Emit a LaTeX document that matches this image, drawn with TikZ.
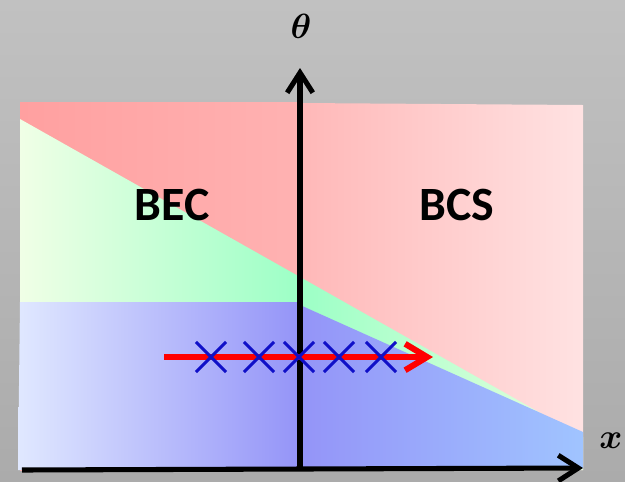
\documentclass[tikz,border=0pt]{standalone}
\usepackage{amsmath}
\usepackage{fontspec}
\newfontfamily\phasefont{Carlito}
\usetikzlibrary{arrows.meta,shapes.misc}

\definecolor{bgtop}{HTML}{C1C1C1}
\definecolor{bgbot}{HTML}{ABABAB}
\definecolor{redL}{HTML}{FFA0A0}
\definecolor{redM}{HTML}{FFB2B2}
\definecolor{redN}{HTML}{FFB8B8}
\definecolor{redR}{HTML}{FFE2E2}
\definecolor{greenL}{HTML}{F0FFE6}
\definecolor{greenM}{HTML}{9CFFC6}
\definecolor{greenR}{HTML}{E6FFDE}
\definecolor{blueL}{HTML}{E0E8FF}
\definecolor{blueM}{HTML}{9494F8}
\definecolor{blueR}{HTML}{A0C4FF}
\definecolor{crossblue}{HTML}{1010C8}

\tikzset{
  axis/.style={line width=3.6pt, -{Straight Barb[length=5mm,width=6.4mm]}},
  path arrow/.style={line width=4.3pt, red, -{Straight Barb[length=5.5mm,width=6.6mm]}},
  mark cross/.style={cross out, draw=crossblue, line width=2.1pt, minimum size=0.68cm, inner sep=0pt},
  phase/.style={font=\phasefont\bfseries\fontsize{34}{38}\selectfont},
  axis label/.style={font=\fontsize{29}{32}\selectfont}
}

\begin{document}
\begin{tikzpicture}[x=0.025cm, y=-0.025cm]
\useasboundingbox (0,0) rectangle (625,481);
\shade[top color=bgtop, bottom color=bgbot] (0,0) rectangle (625,481);

% BEC side
\shade[left color=redL, right color=redM] (20,102) rectangle (300,470);
\shade[left color=greenL, right color=greenM] (20,119) -- (300,277) -- (300,470) -- (20,470) -- cycle;
\shade[left color=blueL, right color=blueM] (20,302) -- (300,302) -- (300,470) -- (18,470) -- cycle;

% BCS side
\shade[left color=redN, right color=redR] (300,103) -- (583,105) -- (583,470) -- (300,470) -- cycle;
\shade[left color=greenM, right color=greenR] (300,277) -- (583,437) -- (583,470) -- (300,470) -- cycle;
\shade[left color=blueM, right color=blueR] (300,305) -- (583,432) -- (583,468) -- (300,470) -- cycle;

\node[phase] (bec) at (172,205) {BEC};
\node[phase] (bcs) at (457,205) {BCS};

% axes
\coordinate (xs) at (22,470);
\coordinate (xe) at (583,468);
\coordinate (ys) at (300,470);
\coordinate (ye) at (300,68);
\draw[axis] (xs) -- (xe);
\draw[axis] (ys) -- (ye);
\node[axis label] (theta) at (301,26) {$\boldsymbol{\theta}$};
\node[axis label] (xl) at (611,441) {$\boldsymbol{x}$};

% path through the crossover
\coordinate (ps) at (164,357);
\coordinate (pe) at (433,357);
\draw[path arrow] (ps) -- (pe);
\foreach \px [count=\i] in {211,259,299,339,381}
  \node[mark cross] (m\i) at (\px,357) {};
\end{tikzpicture}
\end{document}
